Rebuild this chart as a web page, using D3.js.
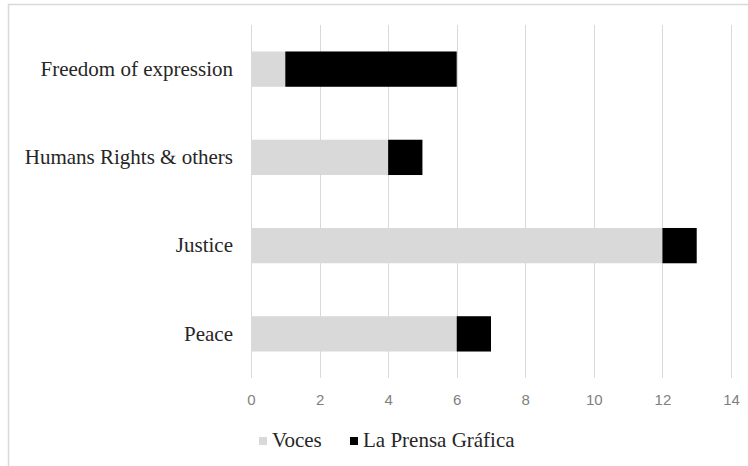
<!DOCTYPE html>
<html>
<head>
<meta charset="utf-8">
<script src="https://cdn.jsdelivr.net/npm/d3@7"></script>
<style>
  html, body { margin: 0; padding: 0; background: #fff; }
  svg { display: block; }
  .serif { font-family: "Liberation Serif", "Times New Roman", Times, serif; }
  .sans { font-family: "Liberation Sans", Arial, sans-serif; }
</style>
</head>
<body>
<svg id="chart" width="748" height="466"></svg>
<script>
// Topics, top to bottom
const categories = ["Freedom of expression", "Humans Rights & others", "Justice", "Peace"];
// Article counts per outlet
const voces = [1, 4, 12, 6];
const prensaGrafica = [5, 1, 1, 1];
const seriesNames = ["Voces", "La Prensa Gráfica"];
const seriesColors = ["#d9d9d9", "#000000"];
const xTicks = [0, 2, 4, 6, 8, 10, 12, 14];

const W = 748, H = 466;
const margin = { top: 25, right: 17, bottom: 88, left: 251 };
const svg = d3.select("#chart");

// outer frame
svg.append("rect")
  .attr("x", 8.5).attr("y", 4.5)
  .attr("width", W + 10).attr("height", H + 10)
  .attr("fill", "none").attr("stroke", "#d9d9d9").attr("stroke-width", 1.5);

const x = d3.scaleLinear().domain([0, 14]).range([margin.left, W - margin.right]);
const y = d3.scaleBand().domain(categories)
  .range([margin.top, H - margin.bottom])
  .paddingInner(0.6).paddingOuter(0.3);

// vertical gridlines
svg.append("g")
  .selectAll("line").data(xTicks).join("line")
  .attr("x1", d => Math.round(x(d)) + 0.5).attr("x2", d => Math.round(x(d)) + 0.5)
  .attr("y1", margin.top).attr("y2", H - margin.bottom)
  .attr("stroke", "#d9d9d9").attr("stroke-width", 1);

// stacked bars
const rows = categories.map((c, i) => ({ cat: c, Voces: voces[i], "La Prensa Gráfica": prensaGrafica[i] }));
const stacked = d3.stack().keys(seriesNames)(rows);

svg.append("g").selectAll("g").data(stacked).join("g")
  .attr("fill", (d, i) => seriesColors[i])
  .selectAll("rect").data(d => d).join("rect")
  .attr("x", d => x(d[0]))
  .attr("width", d => x(d[1]) - x(d[0]))
  .attr("y", d => y(d.data.cat))
  .attr("height", y.bandwidth());

// x axis tick labels
const xAxis = d3.axisBottom(x).tickValues(xTicks).tickSize(0).tickPadding(0);
const gx = svg.append("g")
  .attr("transform", `translate(0,${H - margin.bottom + 16})`)
  .call(xAxis)
  .attr("font-family", null).attr("font-size", null);
gx.select(".domain").remove();
gx.selectAll("text")
  .attr("class", "sans")
  .style("font-size", "15px")
  .attr("fill", "#7f7f7f");

// category labels
const yAxis = d3.axisLeft(y).tickSize(0).tickPadding(18);
const gy = svg.append("g")
  .attr("transform", `translate(${margin.left},0)`)
  .call(yAxis)
  .attr("font-family", null).attr("font-size", null);
gy.select(".domain").remove();
gy.selectAll("text")
  .attr("class", "serif")
  .style("font-size", "21px")
  .attr("fill", "#262626");

// legend
const legendItems = [
  { name: seriesNames[0], color: seriesColors[0], x: 259 },
  { name: seriesNames[1], color: seriesColors[1], x: 350 }
];
const lg = svg.append("g").selectAll("g").data(legendItems).join("g")
  .attr("transform", d => `translate(${d.x},437)`);
lg.append("rect").attr("width", 8).attr("height", 8).attr("fill", d => d.color);
lg.append("text")
  .attr("class", "serif")
  .attr("x", 13).attr("y", 10)
  .style("font-size", "21px")
  .attr("fill", "#262626")
  .text(d => d.name);
</script>
</body>
</html>
